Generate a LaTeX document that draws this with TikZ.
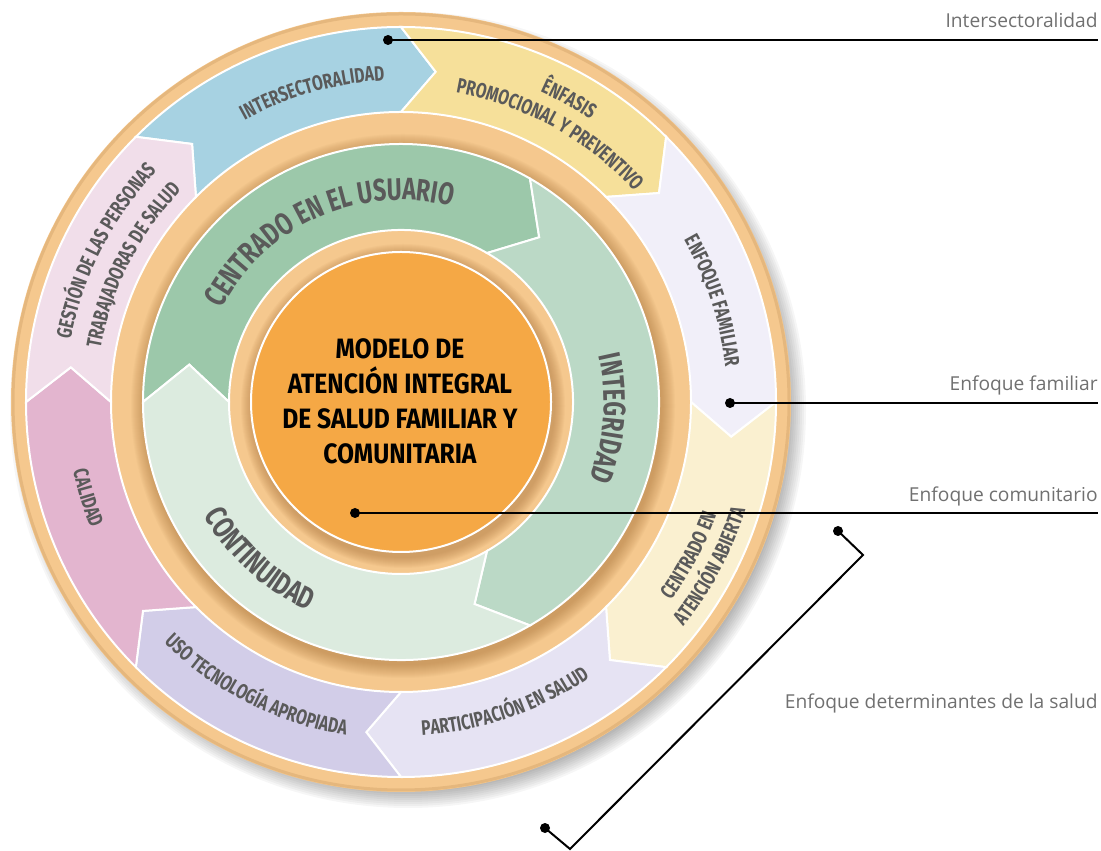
\documentclass[tikz,border=0pt]{standalone}
\usepackage{fontspec}
\setmainfont{Fira Sans}
\newfontfamily\bandfont[FakeStretch=0.74]{Fira Sans}
\newfontfamily\corefont[FakeStretch=0.88]{Fira Sans}
\newfontfamily\notefont{Open Sans}
\usetikzlibrary{decorations.text}

\definecolor{tanring}{HTML}{F5C88E}
\definecolor{tandark}{HTML}{A8733A}
\definecolor{inter}{HTML}{A7D2E2}
\definecolor{enfasis}{HTML}{F6E09A}
\definecolor{familiar}{HTML}{F1EFF9}
\definecolor{abierta}{HTML}{FAF0D0}
\definecolor{particip}{HTML}{E6E3F3}
\definecolor{tecno}{HTML}{D2CDE8}
\definecolor{calidad}{HTML}{E3B5CF}
\definecolor{gestion}{HTML}{F1DEEA}
\definecolor{usuario}{HTML}{9CC8AA}
\definecolor{integri}{HTML}{BBD9C6}
\definecolor{continu}{HTML}{DCEBDF}
\definecolor{core}{HTML}{F5A845}
\definecolor{segtext}{HTML}{5A5A5A}
\definecolor{notetext}{HTML}{707070}

\tikzset{
  seg/.style={fill=#1, draw=white, line width=1pt},
  bandtext/.style={decorate, decoration={text along path, text align=center,
      text color=segtext, text={|\bandfont\bfseries\fontsize{10.5}{12}\selectfont|#1}}},
  bigtext/.style={decorate, decoration={text along path, text align=center,
      text color=segtext, text={|\bandfont\bfseries\fontsize{15.5}{18}\selectfont|#1}}},
  coretext/.style={font=\corefont\bfseries\fontsize{14}{17.5}\selectfont,
      align=center, text=black},
  dotmark/.style={circle, fill=black, inner sep=0pt, minimum size=5pt},
  leader/.style={line width=1pt},
  notelabel/.style={font=\notefont\fontsize{9.6}{11}\selectfont, text=notetext,
      inner sep=0pt}
}

\begin{document}
\begin{tikzpicture}[x=0.5pt, y=0.5pt]
  \useasboundingbox (0,0) rectangle (1101,850);

  % Shadow of the disc
  \foreach \k in {0,...,9}
    \fill[black, opacity=0.035] (408,440) circle[radius=398-2*\k];

  % Outer tan disc
  \fill[tanring] (401,448) circle[radius=390];
  \draw[tandark, opacity=0.2, line width=1.5pt] (401,448) circle[radius=388];

  \begin{scope}[shift={(401,448)}]
    % Outer band, eight arrows turning clockwise
    \foreach \s/\col in {135/inter, 90/enfasis, 45/familiar, 0/abierta,
        -45/particip, -90/tecno, -135/calidad, 180/gestion}
      \draw[seg=\col] (\s:375) arc[start angle=\s, end angle=\s-45, radius=375]
        -- ({\s-51}:332) -- ({\s-45}:290)
        arc[start angle=\s-45, end angle=\s, radius=290]
        -- ({\s-6}:332) -- cycle;

    % Shade of the middle band on the tan ring
    \foreach \k in {0,...,13}
      \fill[tandark, opacity=0.045] (2,-4) circle[radius=272-\k];
    \fill[tanring] (0,0) circle[radius=172];

    % Middle band, three arrows
    \foreach \s/\col in {180/usuario, 60/integri, -60/continu}
      \draw[seg=\col] (\s:258) arc[start angle=\s, end angle=\s-120, radius=258]
        -- ({\s-130}:215) -- ({\s-120}:172)
        arc[start angle=\s-120, end angle=\s, radius=172]
        -- ({\s-10}:215) -- cycle;

    % Core
    \foreach \k in {0,...,10}
      \fill[tandark, opacity=0.05] (2,-4) circle[radius=162-\k];
    \node[circle, fill=core, draw=white, line width=1pt, inner sep=0pt,
      minimum size=150pt] (core) at (0,0) {};
    \node[coretext] (coretitle) at (-1,1)
      {MODELO DE\\ATENCIÓN INTEGRAL\\DE SALUD FAMILIAR Y\\COMUNITARIA};

    % Outer band labels
    \path[bandtext=INTERSECTORALIDAD]
      (151:322) arc[start angle=151, end angle=61, radius=322];
    \path[bandtext=ÊNFASIS]
      (106:340) arc[start angle=106, end angle=16, radius=340];
    \path[bandtext=PROMOCIONAL Y PREVENTIVO]
      (106:314) arc[start angle=106, end angle=16, radius=314];
    \path[bandtext=ENFOQUE FAMILIAR]
      (63:326) arc[start angle=63, end angle=-27, radius=326];
    \path[bandtext=CENTRADO EN]
      (-73:335) arc[start angle=-73, end angle=17, radius=335];
    \path[bandtext=ATENCIÓN ABIERTA]
      (-73:361) arc[start angle=-73, end angle=17, radius=361];
    \path[bandtext=PARTICIPACIÓN EN SALUD]
      (-116:334) arc[start angle=-116, end angle=-26, radius=334];
    \path[bandtext=USO TECNOLOGÍA APROPIADA]
      (-162:338) arc[start angle=-162, end angle=-72, radius=338];
    \path[bandtext=CALIDAD]
      (-208:335) arc[start angle=-208, end angle=-118, radius=335];
    \path[bandtext=GESTIÓN DE LAS PERSONAS]
      (198:336) arc[start angle=198, end angle=108, radius=336];
    \path[bandtext=TRABAJADORAS DE SALUD]
      (198:305) arc[start angle=198, end angle=108, radius=305];

    % Middle band labels
    \path[bigtext=CENTRADO EN EL USUARIO]
      (184:202) arc[start angle=184, end angle=44, radius=202];
    \path[bigtext=INTEGRIDAD]
      (65:203) arc[start angle=65, end angle=-74, radius=203];
    \path[bigtext=CONTINUIDAD]
      (-202:228) arc[start angle=-202, end angle=-62, radius=228];
  \end{scope}

  % Intersectoralidad
  \node[dotmark] (dInter) at (388,810) {};
  \coordinate (eInter) at (1098,810);
  \draw[leader] (dInter.center) -- (eInter);
  \node[notelabel, anchor=base east] (nInter) at (1098,822) {Intersectoralidad};

  % Enfoque familiar
  \node[dotmark] (dFamiliar) at (730,447) {};
  \coordinate (eFamiliar) at (1098,447);
  \draw[leader] (dFamiliar.center) -- (eFamiliar);
  \node[notelabel, anchor=base east] (nFamiliar) at (1098,459) {Enfoque familiar};

  % Enfoque comunitario
  \node[dotmark] (dComunit) at (355,337) {};
  \coordinate (eComunit) at (1098,337);
  \draw[leader] (dComunit.center) -- (eComunit);
  \node[notelabel, anchor=base east] (nComunit) at (1098,348) {Enfoque comunitario};

  % Enfoque determinantes de la salud
  \node[dotmark] (dDetA) at (838,319) {};
  \node[dotmark] (dDetB) at (545,22) {};
  \coordinate (kDetA) at (863,295);
  \coordinate (kDetB) at (570,1);
  \draw[leader] (dDetA.center) -- (kDetA) -- (kDetB) -- (dDetB.center);
  \node[notelabel, anchor=base east] (nDet) at (1098,141)
    {Enfoque determinantes de la salud};
\end{tikzpicture}
\end{document}
